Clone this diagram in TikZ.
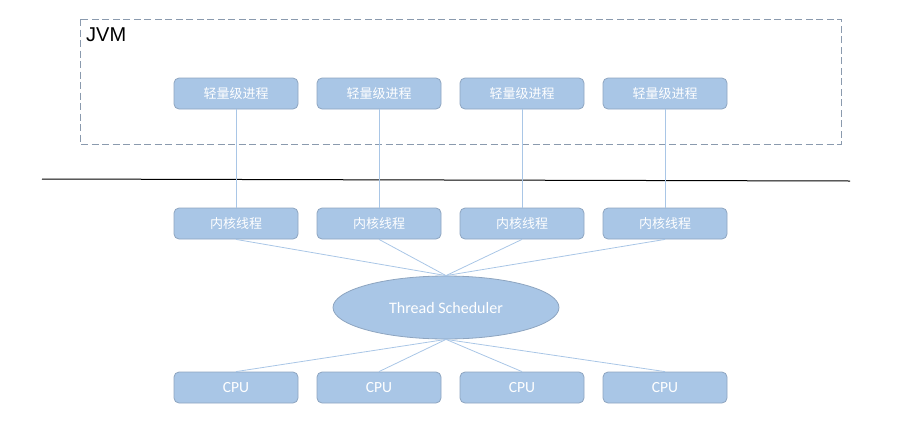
\documentclass[tikz,border=0pt]{standalone}
\usepackage{fontspec}
\setmainfont{Carlito}
\newfontfamily\cjk{Noto Sans CJK SC}
\newfontfamily\jvmfont{Liberation Sans}
\usetikzlibrary{shapes.geometric}
\definecolor{boxfill}{HTML}{A9C6E6}
\definecolor{boxline}{HTML}{8EA5C0}
\definecolor{linkline}{HTML}{A9C6E6}
\definecolor{dashline}{HTML}{8A9AAE}
\begin{document}
\begin{tikzpicture}[x=1pt,y=-1pt,
           box_style/.style={rectangle,rounded corners=5pt,draw=boxline,fill=boxfill,line width=0.8pt,
             minimum width=124pt,minimum height=31pt,inner sep=0pt,text=white,font=\fontsize{13}{15}\selectfont},
           cpu_style/.style={box_style,font=\fontsize{15.5}{17}\selectfont},
           sched_style/.style={ellipse,draw=boxline,fill=boxfill,line width=0.8pt,
             minimum width=226pt,minimum height=63pt,inner sep=0pt,text=white,font=\fontsize{16}{18}\selectfont},
           edge_style/.style={draw=linkline,line width=0.8pt}]
            \useasboundingbox (0,0) rectangle (911,421);
            % JVM frame
            \draw[dashline,dash pattern=on 7pt off 3.5pt,line width=0.8pt] (80,19) rectangle (841,144);
            \node[anchor=north west,inner sep=0pt,font=\jvmfont\fontsize{20}{22}\selectfont] (jvm) at (86,28) {JVM};
            \draw[black,line width=1pt] (42,179) -- (850,181);
            \node[box_style] (p0) at (236, 93.5)  {\cjk 轻量级进程};
            \node[box_style] (p1) at (379, 93.5)  {\cjk 轻量级进程};
            \node[box_style] (p2) at (522, 93.5)  {\cjk 轻量级进程};
            \node[box_style] (p3) at (665, 93.5)  {\cjk 轻量级进程};
            \node[box_style] (k0) at (236, 223.5)  {\cjk 内核线程};
            \node[box_style] (k1) at (379, 223.5)  {\cjk 内核线程};
            \node[box_style] (k2) at (522, 223.5)  {\cjk 内核线程};
            \node[box_style] (k3) at (665, 223.5)  {\cjk 内核线程};
            \node[sched_style] (ts) at (446, 307.5)  {Thread Scheduler};
            \node[cpu_style] (c0) at (236, 387.5)  {CPU};
            \node[cpu_style] (c1) at (379, 387.5)  {CPU};
            \node[cpu_style] (c2) at (522, 387.5)  {CPU};
            \node[cpu_style] (c3) at (665, 387.5)  {CPU};
            \draw[edge_style]  (p0) edge (k0);
            \draw[edge_style]  (p1) edge (k1);
            \draw[edge_style]  (p2) edge (k2);
            \draw[edge_style]  (p3) edge (k3);
            \draw[edge_style]  (k0.south) edge (ts.north);
            \draw[edge_style]  (k1.south) edge (ts.north);
            \draw[edge_style]  (k2.south) edge (ts.north);
            \draw[edge_style]  (k3.south) edge (ts.north);
            \draw[edge_style]  (ts.south) edge (c0.north);
            \draw[edge_style]  (ts.south) edge (c1.north);
            \draw[edge_style]  (ts.south) edge (c2.north);
            \draw[edge_style]  (ts.south) edge (c3.north);
        \end{tikzpicture}
\end{document}
